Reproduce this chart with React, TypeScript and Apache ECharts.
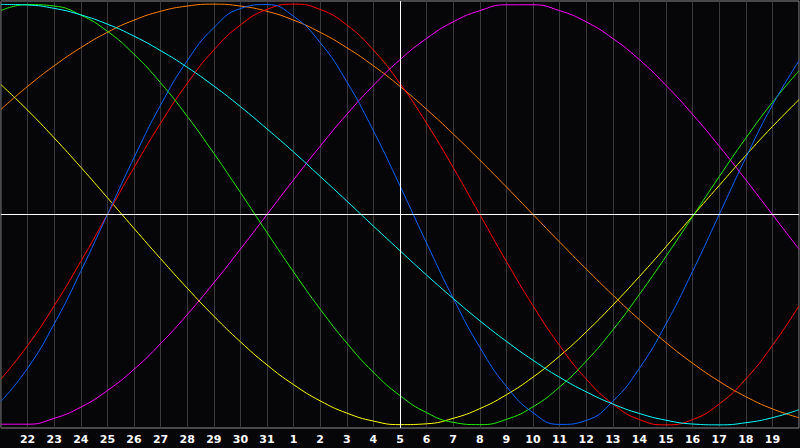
import React, { useEffect, useRef } from "react";
import * as echarts from "echarts";

const days = [
  "21", "22", "23", "24", "25", "26", "27", "28", "29", "30", "31",
  "1", "2", "3", "4", "5", "6", "7", "8", "9", "10",
  "11", "12", "13", "14", "15", "16", "17", "18", "19", "20",
];
const todayIndex = 15;

const physical = [
  -0.888, -0.731, -0.52, -0.27, 0, 0.27, 0.52, 0.731, 0.888, 0.979, 0.998,
  0.942, 0.817, 0.631, 0.398, 0.136, -0.136, -0.398, -0.631, -0.817, -0.942,
  -0.998, -0.979, -0.888, -0.731, -0.52, -0.27, 0, 0.27, 0.52, 0.731,
];
const emotional = [
  -0.782, -0.623, -0.434, -0.223, 0, 0.223, 0.434, 0.623, 0.782, 0.901, 0.975,
  1, 0.975, 0.901, 0.782, 0.623, 0.434, 0.223, 0, -0.223, -0.434,
  -0.623, -0.782, -0.901, -0.975, -1, -0.975, -0.901, -0.782, -0.623, -0.434,
];
const intellectual = [
  0.97, 0.998, 0.991, 0.948, 0.871, 0.762, 0.626, 0.467, 0.291, 0.105, -0.086,
  -0.273, -0.45, -0.611, -0.75, -0.861, -0.942, -0.988, -0.999, -0.974, -0.914,
  -0.82, -0.697, -0.549, -0.38, -0.199, -0.01, 0.18, 0.363, 0.533, 0.683,
];
const intuitive = [
  -0.997, -0.997, -0.969, -0.916, -0.837, -0.736, -0.614, -0.476, -0.325, -0.165, 0,
  0.165, 0.325, 0.476, 0.614, 0.736, 0.837, 0.916, 0.969, 0.997, 0.997,
  0.969, 0.916, 0.837, 0.736, 0.614, 0.476, 0.325, 0.165, 0, -0.165,
];
const aesthetic = [
  0.617, 0.496, 0.364, 0.225, 0.08, -0.066, -0.21, -0.35, -0.483, -0.605, -0.715,
  -0.809, -0.886, -0.944, -0.982, -0.999, -0.995, -0.969, -0.923, -0.857, -0.773,
  -0.673, -0.558, -0.431, -0.295, -0.153, -0.007, 0.138, 0.281, 0.418, 0.546,
];
const awareness = [
  0.5, 0.609, 0.707, 0.793, 0.866, 0.924, 0.966, 0.991, 1, 0.991, 0.966,
  0.924, 0.866, 0.793, 0.707, 0.609, 0.5, 0.383, 0.259, 0.131, 0,
  -0.131, -0.259, -0.383, -0.5, -0.609, -0.707, -0.793, -0.866, -0.924, -0.966,
];
const spiritual = [
  0.999, 0.996, 0.98, 0.949, 0.905, 0.848, 0.779, 0.7, 0.611, 0.513, 0.407,
  0.297, 0.181, 0.064, -0.055, -0.172, -0.288, -0.399, -0.505, -0.603, -0.693,
  -0.774, -0.843, -0.901, -0.946, -0.978, -0.996, -1, -0.99, -0.966, -0.928,
];

const seriesDefs = [
  { name: "Intuitive", data: intuitive, color: "#ff00ff" },
  { name: "Awareness", data: awareness, color: "#ff8000" },
  { name: "Aesthetic", data: aesthetic, color: "#ffff00" },
  { name: "Emotional", data: emotional, color: "#ff0000" },
  { name: "Intellectual", data: intellectual, color: "#22ee00" },
  { name: "Physical", data: physical, color: "#0a64ff" },
  { name: "Spiritual", data: spiritual, color: "#00ffff" },
];

export default function App() {
  const ref = useRef<HTMLDivElement>(null);
  useEffect(() => {
    if (!ref.current) return;
    const chart = echarts.init(ref.current, undefined, { renderer: "svg" });
    const series: any[] = seriesDefs.map((s) => ({
      name: s.name,
      type: "line",
      data: s.data,
      smooth: true,
      showSymbol: false,
      symbol: "none",
      lineStyle: { color: s.color, width: 1 },
      itemStyle: { color: s.color },
      silent: true,
    }));
    series.push({
      name: "markers",
      type: "line",
      data: [],
      silent: true,
      markLine: {
        silent: true,
        symbol: "none",
        label: { show: false },
        lineStyle: { color: "#ffffff", width: 1, type: "solid" },
        data: [{ xAxis: todayIndex }, { yAxis: 0 }],
      },
      z: 1,
    });
    chart.setOption({
      animation: false,
      backgroundColor: "#060508",
      grid: {
        left: 1,
        right: 1,
        top: 1,
        bottom: 20,
        show: true,
        borderColor: "#8a8a8a",
        borderWidth: 1,
        backgroundColor: "transparent",
      },
      xAxis: {
        type: "category",
        data: days,
        boundaryGap: false,
        axisLine: { show: true, lineStyle: { color: "#8a8a8a", width: 1 } },
        axisTick: { show: false },
        axisLabel: {
          color: "#ffffff",
          fontWeight: "bold",
          fontSize: 11,
          fontFamily: "DejaVu Sans",
          margin: 6,
          interval: (index: number) => index > 0 && index < days.length - 1,
        },
        splitLine: {
          show: true,
          interval: 0,
          lineStyle: { color: "#3a3a3a", width: 1 },
        },
      },
      yAxis: {
        type: "value",
        min: -1.015,
        max: 1.015,
        show: false,
        splitLine: { show: false },
      },
      series,
    });
    return () => chart.dispose();
  }, []);
  return (
    <div
      ref={ref}
      style={{ position: "absolute", left: 0, top: 0, width: 800, height: 448 }}
    />
  );
}
